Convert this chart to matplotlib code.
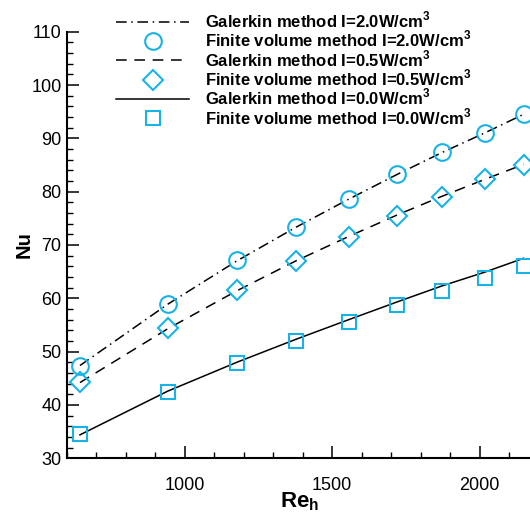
import numpy as np
import matplotlib
matplotlib.use("Agg")
import matplotlib.pyplot as plt
from matplotlib.ticker import MultipleLocator

plt.rcParams['font.family'] = ['Liberation Sans', 'DejaVu Sans']
plt.rcParams['mathtext.fontset'] = 'custom'
plt.rcParams['mathtext.rm'] = 'Liberation Sans:bold'
plt.rcParams['mathtext.bf'] = 'Liberation Sans:bold'

# Reynolds numbers of the computed cases
re_h = [644, 942, 1176, 1376, 1556, 1719, 1871, 2017, 2149]

# Galerkin solution
nu_gal_20 = [47.4, 58.9, 67.0, 73.3, 78.6, 83.2, 87.3, 91.0, 94.5]
nu_gal_05 = [44.2, 54.3, 61.4, 67.0, 71.6, 75.6, 79.1, 82.3, 85.1]
nu_gal_00 = [34.4, 42.6, 48.0, 52.3, 56.0, 59.3, 62.3, 64.9, 67.5]

# Finite volume solution
nu_fv_20 = [47.4, 58.9, 67.2, 73.4, 78.7, 83.3, 87.4, 91.0, 94.6]
nu_fv_05 = [44.3, 54.5, 61.6, 67.0, 71.5, 75.5, 79.0, 82.3, 85.0]
nu_fv_00 = [34.5, 42.4, 47.8, 52.0, 55.6, 58.7, 61.4, 63.9, 66.0]

labels = ['Galerkin method I=2.0W/cm$^3$', 'Finite volume method I=2.0W/cm$^3$',
          'Galerkin method I=0.5W/cm$^3$', 'Finite volume method I=0.5W/cm$^3$',
          'Galerkin method I=0.0W/cm$^3$', 'Finite volume method I=0.0W/cm$^3$']

blue = '#19b2e6'
fig = plt.figure(figsize=(5.30, 5.16), dpi=100)
ax = fig.add_axes([0.1264, 0.1118, 0.8758, 0.8268])

lw = 1.1
h1, = ax.plot(re_h, nu_gal_20, color='black', lw=lw, dashes=(7, 3, 1, 3))
h2, = ax.plot(re_h, nu_fv_20, 'o', ms=12, mfc='none', mec=blue, mew=1.5)
h3, = ax.plot(re_h, nu_gal_05, color='black', lw=lw, dashes=(7, 5))
h4, = ax.plot(re_h, nu_fv_05, 'D', ms=10, mfc='none', mec=blue, mew=1.5)
h5, = ax.plot(re_h, nu_gal_00, color='black', lw=lw)
h6, = ax.plot(re_h, nu_fv_00, 's', ms=10, mfc='none', mec=blue, mew=1.5)

ax.set_xlim(600, 2175)
ax.set_ylim(30, 110)
ax.xaxis.set_major_locator(MultipleLocator(500))
ax.xaxis.set_minor_locator(MultipleLocator(100))
ax.yaxis.set_major_locator(MultipleLocator(10))
ax.yaxis.set_minor_locator(MultipleLocator(2))
ax.spines['top'].set_visible(False)
ax.spines['right'].set_visible(False)
for s in ['left', 'bottom']:
    ax.spines[s].set_linewidth(1.5)
ax.tick_params(which='major', direction='in', length=8.5, width=1.1, labelsize=13, pad=4)
ax.tick_params(which='minor', direction='in', length=4.5, width=1.0)
ax.tick_params(axis='x', pad=13.5)
ax.set_xticks([1000, 1500, 2000])

ax.set_xlabel('Re$_\\mathregular{h}$', fontsize=16, fontweight='bold', labelpad=-2.5)
ax.set_ylabel('Nu', fontsize=14.5, fontweight='bold', labelpad=-2)

fig.legend([h1, h2, h3, h4, h5, h6], labels, loc='upper left',
           bbox_to_anchor=(0.2, 1.0), frameon=False,
           prop={'weight': 'bold', 'size': 12}, handlelength=4.4,
           handletextpad=0.96, labelspacing=-0.08, borderaxespad=0.2)

fig.savefig('out.png', dpi=100)
